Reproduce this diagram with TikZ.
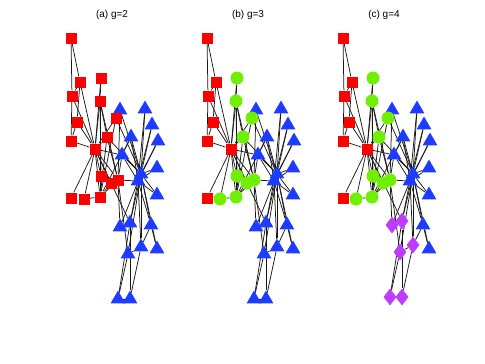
\documentclass[tikz,border=0pt]{standalone}
\usepackage{fontspec}
\setmainfont{Liberation Sans}
\usetikzlibrary{shapes.geometric}
\usetikzlibrary{backgrounds}
\colorlet{sqcol}{red}
\definecolor{tricol}{RGB}{30,60,255}
\definecolor{circcol}{RGB}{110,240,0}
\definecolor{diacol}{RGB}{190,60,255}
\tikzstyle{sq}=[rectangle, fill=sqcol, minimum size=11pt, inner sep=0pt]
\tikzstyle{tri}=[regular polygon, regular polygon sides=3, fill=tricol, minimum size=17pt, inner sep=0pt, yshift=-2pt]
\tikzstyle{circ}=[circle, fill=circcol, minimum size=13pt, inner sep=0pt]
\tikzstyle{dia}=[diamond, fill=diacol, minimum width=13pt, minimum height=17pt, inner sep=0pt]
\tikzstyle{link}=[line width=0.75pt, color=black!90]
\tikzstyle{title}=[inner sep=0pt, font=\fontsize{10}{12}\selectfont]

\begin{document}
\begin{tikzpicture}[x=1pt,y=-1pt]
  \def\dx{136} % shift between panels
  \useasboundingbox (0,0) rectangle (485,364);

  % TITLES
  \node[title] (ta) at (112,15) {(a) g=2};
  \node[title] (tb) at (112+\dx,15) {(b) g=3};
  \node[title] (tc) at (112+2*\dx,15) {(c) g=4};

  % MEMBERS: number / x / y / style for g=2 / g=3 / g=4
  \foreach \n/\x/\y/\sa/\sb/\sc in {
      1/95/149/sq/sq/sq,      2/100/197/sq/circ/circ,  3/118/180/sq/circ/circ,
      4/100/101/sq/circ/circ, 5/77/122/sq/sq/sq,       6/72/96/sq/sq/sq,
      7/80/82/sq/sq/sq,       8/101/176/sq/circ/circ,  9/122/153/tri/tri/tri,
      10/120/108/tri/tri/tri, 11/71/141/sq/sq/sq,      12/71/198/sq/sq/sq,
      13/101/78/sq/circ/circ, 14/107/137/sq/circ/circ, 15/145/107/tri/tri/tri,
      16/152/123/tri/tri/tri, 17/71/38/sq/sq/sq,       18/111/183/sq/circ/circ,
      19/158/139/tri/tri/tri, 20/116/118/sq/circ/circ, 21/157/166/tri/tri/tri,
      22/84/199/sq/circ/circ, 23/157/193/tri/tri/tri,  24/141/245/tri/tri/dia,
      25/118/297/tri/tri/dia, 26/130/297/tri/tri/dia,  27/157/247/tri/tri/tri,
      28/128/252/tri/tri/dia, 29/120/225/tri/tri/dia,  30/151/223/tri/tri/tri,
      31/131/135/tri/tri/tri, 32/130/221/tri/tri/dia,  33/138/179/tri/tri/tri,
      34/141/172/tri/tri/tri}{
    \node[\sa] (a\n) at (\x,\y) {};
    \node[\sb] (b\n) at (\x+\dx,\y) {};
    \node[\sc] (c\n) at (\x+2*\dx,\y) {};
  }

  % TIES
  \begin{scope}[on background layer]
    \foreach \p in {a,b,c}{
      \foreach \u/\v in {1/2,1/3,1/4,1/5,1/6,1/7,1/8,1/9,1/11,1/12,1/13,1/14,
          1/18,1/20,1/22,1/32,2/3,2/4,2/8,2/14,2/18,2/20,2/22,2/31,
          3/4,3/8,3/9,3/10,3/14,3/28,3/29,3/33,4/8,4/13,4/14,
          5/7,5/11,6/7,6/11,6/17,7/17,9/31,9/33,9/34,10/34,14/34,
          15/33,15/34,16/33,16/34,19/33,19/34,20/34,21/33,21/34,
          23/33,23/34,24/26,24/28,24/30,24/33,24/34,25/26,25/28,25/32,
          26/32,27/30,27/34,28/34,29/32,29/34,30/33,30/34,31/33,31/34,
          32/33,32/34,33/34}
        \draw[link] (\p\u) -- (\p\v);
    }
  \end{scope}
\end{tikzpicture}
\end{document}
